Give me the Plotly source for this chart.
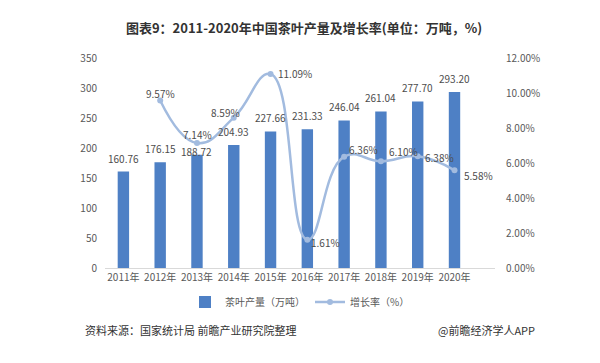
import plotly.graph_objects as go

years = ["2011年", "2012年", "2013年", "2014年", "2015年", "2016年", "2017年", "2018年", "2019年", "2020年"]
output = [160.76, 176.15, 188.72, 204.93, 227.66, 231.33, 246.04, 261.04, 277.70, 293.20]
growth_years = years[1:]
growth = [9.57, 7.14, 8.59, 11.09, 1.61, 6.36, 6.10, 6.38, 5.58]
# label offsets (pixels) for the growth-rate labels
label_dx = [0, 1, -8, 24, 18, 19, 23, 22, 24]
label_dy = [7, 9, 5, 0, -3, 7, 10, -1, -5]
# label offsets (pixels) for the bar labels
bar_dy = [4, 4, -6, 4, 4, 4, 4, 4, 4, 4]

font = "Noto Sans CJK SC, Noto Sans, sans-serif"
bar_color = "#4e80c5"
line_color = "#a2bbdf"
text_color = "#4d4d4d"
axis_color = "#595959"

fig = go.Figure()
fig.add_trace(go.Bar(
    x=years, y=output, name="茶叶产量（万吨）",
    marker=dict(color=bar_color, line=dict(width=0)),
    cliponaxis=False,
))
fig.add_trace(go.Scatter(
    x=growth_years, y=growth, name="增长率（%）", yaxis="y2",
    mode="lines+markers",
    line=dict(color=line_color, width=2.5, shape="spline", smoothing=1.3),
    marker=dict(color=line_color, size=6),
    cliponaxis=False,
))

annotations = [
    dict(x=x, y=v, xref="x", yref="y", text=f"{v:.2f}", showarrow=False,
         yanchor="bottom", yshift=dy, font=dict(size=10, color=text_color, family=font))
    for x, v, dy in zip(years, output, bar_dy)
]
annotations += [
    dict(x=x, y=v, xref="x", yref="y2", text=f"{v:.2f}%", showarrow=False,
         xshift=dx, yshift=dy, font=dict(size=10, color=text_color, family=font))
    for x, v, dx, dy in zip(growth_years, growth, label_dx, label_dy)
]
annotations += [
    dict(text="资料来源：国家统计局 前瞻产业研究院整理", xref="paper", yref="paper",
         x=-0.056, xanchor="left", y=-0.295, yanchor="middle", showarrow=False,
         font=dict(size=11, color="#333333", family=font)),
    dict(text="@前瞻经济学人APP", xref="paper", yref="paper",
         x=1.108, xanchor="right", y=-0.295, yanchor="middle", showarrow=False,
         font=dict(size=11, color="#333333", family=font)),
]

fig.update_layout(
    width=592, height=355,
    margin=dict(l=97, r=105, t=50, b=95, autoexpand=False),
    paper_bgcolor="white", plot_bgcolor="white",
    font=dict(family=font, color=axis_color, size=10),
    title=dict(text="<b>图表9：2011-2020年中国茶叶产量及增长率(单位：万吨，%)</b>",
               x=0.5, xanchor="center", y=0.941, yanchor="middle",
               font=dict(size=13, color="#333333", family=font)),
    bargap=0.69,
    showlegend=True,
    legend=dict(orientation="h", x=0.5, xanchor="center", y=-0.162, yanchor="middle",
                font=dict(size=10, color=axis_color, family=font), itemwidth=30),
    xaxis=dict(showline=True, linecolor="#d9d9d9", linewidth=1, ticks="",
               tickfont=dict(size=10, color=axis_color), showgrid=False),
    yaxis=dict(range=[0, 350], dtick=50, showgrid=False, zeroline=False, showline=False,
               tickfont=dict(size=10, color=axis_color), ticks="outside", ticklen=5, tickcolor="white"),
    yaxis2=dict(range=[0, 12], dtick=2, overlaying="y", side="right", showgrid=False,
                zeroline=False, showline=False, tickformat=".2f", ticksuffix="%",
                tickfont=dict(size=10, color=axis_color), ticks="outside", ticklen=8, tickcolor="white"),
    annotations=annotations,
)

fig.write_html("out.html")
